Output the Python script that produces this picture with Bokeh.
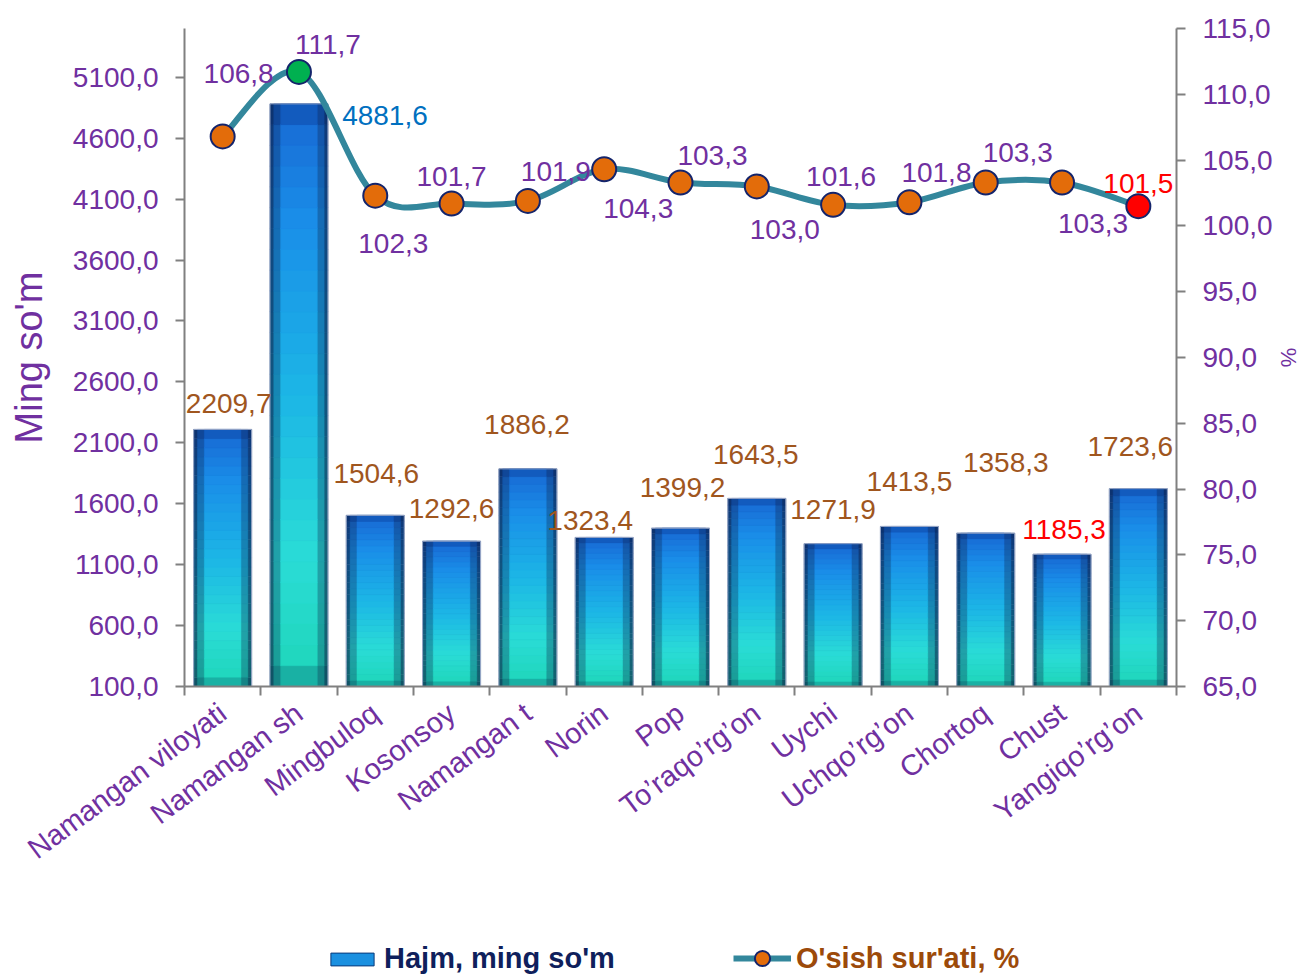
import numpy as np
from bokeh.plotting import figure
from bokeh.layouts import column
from bokeh.models import (Range1d, LinearAxis, FixedTicker, CustomJSTickFormatter,
                          ColumnDataSource, Legend, LegendItem)
from bokeh.embed import file_html
from bokeh.resources import INLINE
from bokeh.core.properties import value

# ---------------- data ----------------
categories = ["Namangan viloyati", "Namangan sh", "Mingbuloq", "Kosonsoy", "Namangan t",
              "Norin", "Pop", "To\u2019raqo\u2019rg\u2019on", "Uychi", "Uchqo\u2019rg\u2019on",
              "Chortoq", "Chust", "Yangiqo\u2019rg\u2019on"]
volume = [2209.7, 4881.6, 1504.6, 1292.6, 1886.2, 1323.4, 1399.2, 1643.5, 1271.9,
          1413.5, 1358.3, 1185.3, 1723.6]
growth = [106.8, 111.7, 102.3, 101.7, 101.9, 104.3, 103.3, 103.0, 101.6, 101.8,
          103.3, 103.3, 101.5]
left_ticks = [100, 600, 1100, 1600, 2100, 2600, 3100, 3600, 4100, 4600, 5100]
right_ticks = [65, 70, 75, 80, 85, 90, 95, 100, 105, 110, 115]
series_names = ["Hajm, ming so'm", "O'sish sur'ati, %"]

# ---------------- style ----------------
FONT = "Liberation Sans"
PURPLE = "#7030A0"
BROWN = "#A0561E"
GRAY = "#808080"
LINE_COL = "#33879C"
FS = "28px"

bar_label_colors = [BROWN, "#0070C0", BROWN, BROWN, BROWN, BROWN, BROWN, BROWN, BROWN,
                    BROWN, BROWN, "#FF0000", BROWN]
bar_label_dx = [6, 86, 1, 0, -1, -14, 2, -1, 0, 0, 20, 2, -8]
bar_label_dy = [-26, 12, -42, -33, -44, -17, -41, -44, -34, -45, -71, -25, -42]
g_label_colors = [PURPLE] * 12 + ["#FF0000"]
g_label_dx = [16, 29, 18, 0, 28, 34, 32, 28, 8, 27, 32, 31, 0]
g_label_dy = [-63, -27, 48, -27, -29, 39, -27, 43, -28, -30, -30, 41, -23]
marker_colors = ["#E36C0A", "#00B050"] + ["#E36C0A"] * 10 + ["#FF0000"]

fmt = lambda v: f"{v:.1f}".replace(".", ",")

n = len(categories)
xs = [i + 0.5 for i in range(n)]

p = figure(width=1303, height=920, output_backend="svg", toolbar_location=None,
           x_range=Range1d(0, n), y_range=Range1d(100, 5500),
           min_border_left=184, min_border_right=123, min_border_top=28,
           min_border_bottom=234, background_fill_color="white",
           border_fill_color="white")
p.outline_line_color = None
p.grid.visible = False
p.extra_y_ranges = {"pct": Range1d(65, 115)}

# ---------- gradient bars ----------
def hex2rgb(h):
    h = h.lstrip("#")
    return np.array([int(h[i:i + 2], 16) for i in (0, 2, 4)], dtype=float)

def rgb2hex(c):
    c = np.clip(np.round(c), 0, 255).astype(int)
    return "#%02x%02x%02x" % tuple(c)

stops = [(0.0, "#128a8a"), (0.035, "#20d6bc"), (0.22, "#2adcd6"), (0.5, "#1cb6e6"),
         (0.8, "#1a8ee8"), (0.95, "#1870d8"), (1.0, "#0f4fb0")]

def grad(f):
    for (f0, c0), (f1, c1) in zip(stops[:-1], stops[1:]):
        if f <= f1:
            t = (f - f0) / (f1 - f0) if f1 > f0 else 0
            return hex2rgb(c0) * (1 - t) + hex2rgb(c1) * t
    return hex2rgb(stops[-1][1])

NAVY = hex2rgb("#0a1a40")
NS = 28
base = 100
layers = [(0.76, 0.62), (0.66, 0.30), (0.48, 0.0)]
for width, dark in layers:
    bx, bb, bt, bc = [], [], [], []
    for i, v in enumerate(volume):
        h = v - base
        for k in range(NS):
            bx.append(xs[i])
            bb.append(base + h * k / NS)
            bt.append(base + h * (k + 1) / NS + (h / NS * 0.02 if k < NS - 1 else 0))
            c = grad((k + 0.5) / NS) * (1 - dark) + NAVY * dark
            bc.append(rgb2hex(c))
    src = ColumnDataSource(dict(x=bx, bottom=bb, top=bt, color=bc))
    p.vbar(x="x", bottom="bottom", top="top", width=width, source=src,
           fill_color="color", line_color="color", line_width=0.5)

p.vbar(x=xs, bottom=base, top=volume, width=0.76, fill_color=None,
       line_color="#9aa8c8", line_width=1)

# ---------- smooth growth line (cubic bezier segments) ----------
x0s, y0s, x1s, y1s, cx0s, cy0s, cx1s, cy1s = [], [], [], [], [], [], [], []
for i in range(n - 1):
    pa = (xs[i - 1], growth[i - 1]) if i > 0 else (xs[i], growth[i])
    pb = (xs[i], growth[i])
    pc = (xs[i + 1], growth[i + 1])
    pd = (xs[i + 2], growth[i + 2]) if i + 2 < n else (xs[i + 1], growth[i + 1])
    x0s.append(pb[0]); y0s.append(pb[1]); x1s.append(pc[0]); y1s.append(pc[1])
    cx0s.append(pb[0] + (pc[0] - pa[0]) / 6); cy0s.append(pb[1] + (pc[1] - pa[1]) / 6)
    cx1s.append(pc[0] - (pd[0] - pb[0]) / 6); cy1s.append(pc[1] - (pd[1] - pb[1]) / 6)
p.bezier(x0=x0s, y0=y0s, x1=x1s, y1=y1s, cx0=cx0s, cy0=cy0s, cx1=cx1s, cy1=cy1s,
         line_color=LINE_COL, line_width=6, y_range_name="pct")
p.scatter(x=xs, y=growth, size=24, fill_color=marker_colors, line_color="#14246b",
          line_width=2, y_range_name="pct")

# ---------- data labels ----------
bsrc = ColumnDataSource(dict(x=xs, y=volume, t=[fmt(v) for v in volume], c=bar_label_colors,
                             dx=bar_label_dx, dy=bar_label_dy))
p.text(x="x", y="y", text="t", text_color="c", x_offset="dx", y_offset="dy", source=bsrc,
       text_font=value(FONT), text_font_size=FS, text_align="center",
       text_baseline="middle")
gsrc = ColumnDataSource(dict(x=xs, y=growth, t=[fmt(v) for v in growth], c=g_label_colors,
                             dx=g_label_dx, dy=g_label_dy))
p.text(x="x", y="y", text="t", text_color="c", x_offset="dx", y_offset="dy", source=gsrc,
       text_font=value(FONT), text_font_size=FS, text_align="center",
       text_baseline="middle", y_range_name="pct")

# ---------- axes ----------
def style_axis(ax):
    ax.axis_line_color = GRAY
    ax.axis_line_width = 2
    ax.major_tick_line_color = GRAY
    ax.major_tick_line_width = 2
    ax.major_tick_out = 9
    ax.major_tick_in = 0
    ax.minor_tick_line_color = None
    ax.major_label_text_color = PURPLE
    ax.major_label_text_font = FONT
    ax.major_label_text_font_size = FS
    ax.axis_label_text_color = PURPLE
    ax.axis_label_text_font = FONT
    ax.axis_label_text_font_style = "normal"

yl = p.yaxis[0]
yl.ticker = FixedTicker(ticks=left_ticks)
yl.formatter = CustomJSTickFormatter(code="return tick.toFixed(1).replace('.', ',');")
style_axis(yl)
yl.axis_label = "Ming so'm"
yl.axis_label_text_font_size = "38px"
yl.major_label_standoff = 17
yl.axis_label_standoff = 20

yr = LinearAxis(y_range_name="pct", ticker=FixedTicker(ticks=right_ticks),
                formatter=CustomJSTickFormatter(code="return tick.toFixed(1).replace('.', ',');"))
style_axis(yr)
yr.axis_label = "%"
yr.axis_label_text_font_size = "22px"
yr.major_label_standoff = 17
yr.axis_label_standoff = 0
p.add_layout(yr, "right")

xa = p.xaxis[0]
xa.ticker = FixedTicker(ticks=xs, minor_ticks=list(range(n + 1)))
xa.major_label_overrides = {x: c for x, c in zip(xs, categories)}
style_axis(xa)
xa.major_label_text_font_size = "29px"
xa.major_tick_line_color = None
xa.major_tick_out = 0
xa.minor_tick_line_color = GRAY
xa.minor_tick_line_width = 2
xa.minor_tick_out = 9
xa.minor_tick_in = 0
xa.major_label_orientation = 0.64
xa.major_label_standoff = 14

# ---------- legend strip (separate figure under the chart) ----------
lg = figure(width=1303, height=57, output_backend="svg", toolbar_location=None,
            x_range=Range1d(0, 1), y_range=Range1d(0, 1), min_border=0,
            x_axis_location=None, y_axis_location=None,
            background_fill_color="white", border_fill_color="white")
lg.outline_line_color = None
lg.grid.visible = False
nan = [float("nan")]
bar_proxy = lg.vbar(x=nan, bottom=nan, top=nan, width=0.7, fill_color="#1a90e0",
                    line_color="#0a3a7a", line_width=1)
line_proxy = lg.line(x=nan, y=nan, line_color=LINE_COL, line_width=6)
marker_proxy = lg.scatter(x=nan, y=nan, size=17, fill_color="#E36C0A", line_color="#14246b",
                          line_width=2)

# the legend strip's frame is aligned with the chart's frame (left edge at 184px)
leg1 = Legend(items=[LegendItem(label=series_names[0], renderers=[bar_proxy])],
              location=(141, 2), orientation="horizontal",
              label_text_color="#0f1f5c", label_text_font=FONT, label_text_font_size="29px",
              label_text_font_style="bold", glyph_width=54, glyph_height=16,
              label_standoff=5, border_line_color=None, background_fill_alpha=0,
              padding=0, margin=0)
leg2 = Legend(items=[LegendItem(label=series_names[1], renderers=[line_proxy, marker_proxy])],
              location=(549, 0), orientation="horizontal",
              label_text_color="#9c4a0a", label_text_font=FONT, label_text_font_size="29px",
              label_text_font_style="bold", glyph_width=58, glyph_height=38,
              label_standoff=5, border_line_color=None, background_fill_alpha=0,
              padding=0, margin=0)
lg.add_layout(leg1, "center")
lg.add_layout(leg2, "center")

layout = column(p, lg, spacing=0)
open("out.html", "w").write(file_html(layout, INLINE))
